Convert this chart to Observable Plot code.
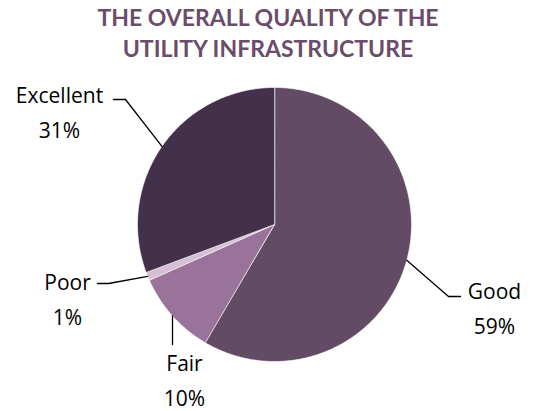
<!DOCTYPE html>
<html>
<head>
<meta charset="utf-8">
<script src="https://cdn.jsdelivr.net/npm/d3@7"></script>
<script src="https://cdn.jsdelivr.net/npm/@observablehq/plot@0.6"></script>
<style>
  html, body { margin: 0; padding: 0; background: #fff; }
  #wrap { width: 533px; height: 411px; overflow: hidden; }
  #title { height: 72px; box-sizing: border-box; padding-top: 2px; text-align: center;
    font-family: Lato, sans-serif; font-weight: bold; font-size: 23px;
    line-height: 31px; color: #6b4d6b; padding-left: 3px; }
  svg { display: block; }
</style>
</head>
<body>
<div id="wrap">
  <div id="title">THE OVERALL QUALITY OF THE<br>UTILITY INFRASTRUCTURE</div>
  <div id="chart"></div>
</div>
<script>
// ---- data ----
const categories = ["Good", "Fair", "Poor", "Excellent"];
const values = [59, 10, 1, 31];
const percentLabels = ["59%", "10%", "1%", "31%"];
const colors = ["#634b65", "#997399", "#d6bfd6", "#43304a"];

// ---- layout (pixels inside the svg) ----
const W = 533, H = 339;
const CX = 274, CY = 152, R = 137;
const layout = {
  Good:      {label: [494, 233], elbow: [448, 224], end: [460, 224]},
  Fair:      {label: [184, 305], elbow: null,       end: [172, 272]},
  Poor:      {label: [67, 224],  elbow: [108, 211], end: [97, 211]},
  Excellent: {label: [59, 37],   elbow: [125, 27],  end: [113, 27]}
};
const toU = px => (px - CX) / R;
const toV = py => (CY - py) / R;

// ---- build slices from data ----
const total = d3.sum(values);
const slicePts = [];
const leaderPts = [];
const labels = [];
let acc = 0;
categories.forEach((c, i) => {
  const a0 = acc / total * 2 * Math.PI;
  acc += values[i];
  const a1 = acc / total * 2 * Math.PI;
  slicePts.push({cat: c, u: 0, v: 0});
  const n = Math.max(2, Math.ceil((a1 - a0) / (Math.PI / 180)));
  for (let k = 0; k <= n; k++) {
    const a = a0 + (a1 - a0) * k / n;
    slicePts.push({cat: c, u: Math.sin(a), v: Math.cos(a)});
  }
  const am = (a0 + a1) / 2;
  const L = layout[c];
  const pts = [{u: Math.sin(am), v: Math.cos(am)}];
  if (L.elbow) pts.push({u: toU(L.elbow[0]), v: toV(L.elbow[1])});
  pts.push({u: toU(L.end[0]), v: toV(L.end[1])});
  pts.forEach(p => leaderPts.push({cat: c, ...p}));
  labels.push({cat: c, text: c + "\n" + percentLabels[i], u: toU(L.label[0]), v: toV(L.label[1])});
});

const chart = Plot.plot({
  width: W, height: H,
  margin: 0,
  x: {domain: [toU(0), toU(W)], range: [0, W], axis: null},
  y: {domain: [toV(H), toV(0)], range: [H, 0], axis: null},
  color: {domain: categories, range: colors},
  style: {fontFamily: "'Open Sans', sans-serif", background: "white"},
  marks: [
    Plot.line(slicePts, {x: "u", y: "v", z: "cat", fill: "cat", stroke: "white", strokeWidth: 0.6, curve: "linear-closed"}),
    Plot.line(leaderPts, {x: "u", y: "v", z: "cat", stroke: "black", strokeWidth: 1.3}),
    Plot.text(labels, {x: "u", y: "v", text: "text", fontSize: 21, lineHeight: 1.667, fill: "black", textAnchor: "middle"})
  ]
});
document.getElementById("chart").appendChild(chart);
</script>
</body>
</html>
